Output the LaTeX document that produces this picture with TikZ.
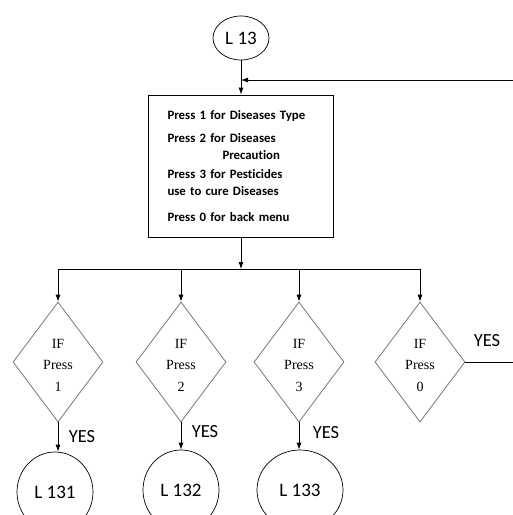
\documentclass[tikz,border=0pt]{standalone}
\usepackage{fontspec}
\setmainfont{Carlito}[Ligatures=CommonOff]
\newfontfamily\decfont{Liberation Serif}
\usepackage{xcolor}
\definecolor{decgray}{RGB}{120,120,120}
\usetikzlibrary{shapes,arrows.meta,positioning,calc}

\begin{document}
\begin{tikzpicture}[x=1pt, y=-1pt, >={Latex[length=7pt,width=5pt]}, line width=0.8pt,
    term/.style={ellipse, draw, line width=0.7pt, inner sep=0pt, font=\fontsize{19}{20}\selectfont},
    menubox/.style={rectangle, draw, line width=1pt, minimum width=185pt, minimum height=142pt, text width=147pt, inner xsep=19pt, align=left, font=\bfseries\fontsize{12.8}{17}\selectfont},
    decision/.style={diamond, draw=decgray, line width=0.8pt, minimum width=90pt, minimum height=120pt, inner sep=0pt},
    dectext/.style={align=center, yshift=-3pt, font=\decfont\fontsize{14}{21.5}\selectfont},
    yes/.style={font=\fontsize{18.5}{20}\selectfont}]
    \clip (0,0) rectangle (513,515);

    % start and menu
    \node [term, minimum width=56pt, minimum height=44pt] (l13) at (241,38) {L 13};
    \node [menubox] (menu) at (241,166) {Press 1 for Diseases Type\\[6pt]
        Press 2 for Diseases\\
        \hspace*{55pt}Precaution\\[2pt]
        Press 3 for Pesticides\\
        use to cure Diseases\\[9pt]
        Press 0 for back menu};

    % decisions
    \coordinate (bus) at (241,269);
    \node [decision, label={[dectext]center:{IF\\Press\\1}}] (if1) at (58,362) {};
    \node [decision, label={[dectext]center:{IF\\Press\\2}}] (if2) at (181,362) {};
    \node [decision, label={[dectext]center:{IF\\Press\\3}}] (if3) at (299,362) {};
    \node [decision, label={[dectext]center:{IF\\Press\\0}}] (if4) at (420,362) {};

    % targets
    \node [term, minimum width=76pt, minimum height=80pt] (l131) at (55,492) {L 131};
    \node [term, minimum width=76pt, minimum height=80pt] (l132) at (181,490) {L 132};
    \node [term, minimum width=86pt, minimum height=80pt] (l133) at (300,490) {L 133};

    \node [yes] (yes1) at (82,437) {YES};
    \node [yes] (yes2) at (205,432) {YES};
    \node [yes] (yes3) at (326,433) {YES};
    \node [yes] (yes4) at (487,341) {YES};

    \coordinate (loop) at (513,80);
    \coordinate (exit) at (513,362);

    \draw [->] (l13) -- (menu);
    \draw [->] (loop) -- (loop -| menu);
    \draw [->] (menu) -- (bus);
    \draw (if1 |- bus) -- (if4 |- bus);
    \foreach \d in {if1,if2,if3,if4}
        \draw [->] (\d |- bus) -- (\d);
    \draw [->] (if1) -- (if1 |- l131.north);
    \draw [->] (if2) -- (l132);
    \draw [->] (if3) -- (if3 |- l133.north);
    \draw (if4) -- (exit);
\end{tikzpicture}
\end{document}
